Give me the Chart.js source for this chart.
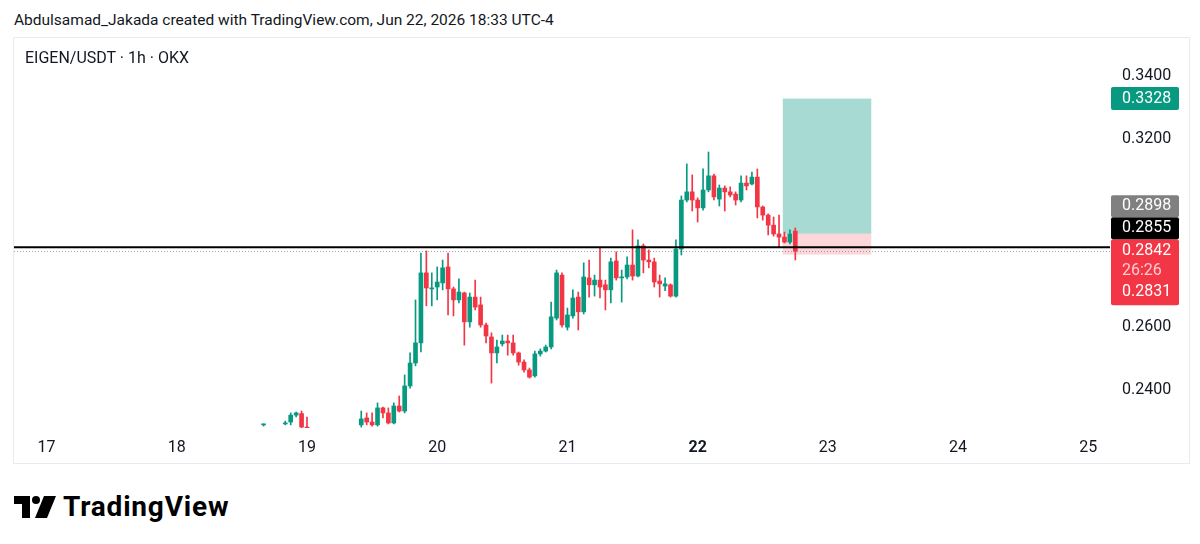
<!DOCTYPE html>
<html>
<head>
<meta charset="utf-8">
<script src="https://cdn.jsdelivr.net/npm/chart.js@4.4.1/dist/chart.umd.min.js"></script>
<style>
  html, body { margin: 0; padding: 0; background: #fff; }
  body { width: 1200px; height: 544px; position: relative; overflow: hidden;
         font-family: Roboto, "Noto Sans", sans-serif; color: #131722; }
  #credit { position: absolute; left: 14px; top: 11px; font-size: 15.5px; line-height: 18px; }
  #frame { position: absolute; left: 13px; top: 37px; width: 1175px; height: 425px; border: 1px solid #e9ebf0; }
  #wrap { position: absolute; left: 14px; top: 38px; }
  #title { position: absolute; left: 25px; top: 49px; font-size: 16px; line-height: 18px; z-index: 2; }
  #logo { position: absolute; left: 14px; top: 490px; display: flex; align-items: center; }
  #logo span { font-size: 28px; font-weight: 700; margin-left: 7px; letter-spacing: 0.8px; color: #000; }
</style>
</head>
<body>
<div id="credit">Abdulsamad_Jakada created with TradingView.com, Jun 22, 2026 18:33 UTC-4</div>
<div id="frame"></div>
<div id="wrap"><canvas id="grafico" width="1174" height="425"></canvas></div>
<div id="title">EIGEN/USDT · 1h · OKX</div>
<div id="logo">
  <svg width="42" height="22" viewBox="0 0 42 22">
    <path d="M0 0 H16 V22 H8 V8 H0 Z" fill="#000"/>
    <circle cx="22" cy="4" r="4" fill="#000"/>
    <path d="M30 0 H42 L33 22 H21 Z" fill="#000"/>
  </svg>
  <span>TradingView</span>
</div>

<script>
// hora 0 = 19 jun 00:00 (UTC-4); um candle por hora a partir de firstHour
const firstHour = -8;
const opens = [
  0.2289, null, null, null, 0.2292, 0.2298, 0.2320, 0.2325, 0.2282,
  null, null, null, null, null, null, null, null, null,
  0.2289, 0.2311, 0.2298, 0.2289, 0.2343, 0.2327, 0.2295, 0.2349, 0.2333, 0.2413,
  0.2486, 0.2550, 0.2773, 0.2722, 0.2728, 0.2741, 0.2792, 0.2722, 0.2687, 0.2709,
  0.2617, 0.2696, 0.2671, 0.2607, 0.2569, 0.2518, 0.2547, 0.2556, 0.2550, 0.2518,
  0.2489, 0.2464, 0.2445, 0.2515, 0.2524, 0.2537, 0.2629, 0.2766, 0.2600, 0.2636,
  0.2696, 0.2649, 0.2757, 0.2735, 0.2750, 0.2735, 0.2719, 0.2811, 0.2757, 0.2760,
  0.2798, 0.2763, 0.2859, 0.2814, 0.2808, 0.2747, 0.2731, 0.2735, 0.2699, 0.2849,
  0.3005, 0.3031, 0.3005, 0.2980, 0.3037, 0.3082, 0.3008, 0.3043, 0.3031, 0.3024,
  0.3005, 0.3059, 0.3056, 0.3078, 0.2983, 0.2957, 0.2925, 0.2897, 0.2887, 0.2871,
  0.2906
];
const highs = [
  0.2292, null, null, null, 0.2301, 0.2327, 0.2330, 0.2333, 0.2314,
  null, null, null, null, null, null, null, null, null,
  0.2333, 0.2327, 0.2327, 0.2359, 0.2346, 0.2343, 0.2359, 0.2381, 0.2448, 0.2518,
  0.2687, 0.2836, 0.2843, 0.2773, 0.2792, 0.2814, 0.2836, 0.2728, 0.2754, 0.2712,
  0.2709, 0.2750, 0.2696, 0.2613, 0.2582, 0.2559, 0.2575, 0.2575, 0.2575, 0.2521,
  0.2496, 0.2470, 0.2524, 0.2531, 0.2543, 0.2680, 0.2782, 0.2773, 0.2661, 0.2719,
  0.2712, 0.2805, 0.2814, 0.2766, 0.2852, 0.2750, 0.2820, 0.2840, 0.2782, 0.2824,
  0.2910, 0.2878, 0.2865, 0.2846, 0.2820, 0.2766, 0.2757, 0.2738, 0.2878, 0.3018,
  0.3120, 0.3085, 0.3012, 0.3104, 0.3158, 0.3088, 0.3053, 0.3050, 0.3047, 0.3031,
  0.3082, 0.3082, 0.3094, 0.3104, 0.2986, 0.2961, 0.2951, 0.2957, 0.2903, 0.2910,
  0.2916
];
const lows = [
  0.2285, null, null, null, 0.2289, 0.2289, 0.2314, 0.2273, 0.2225,
  null, null, null, null, null, null, null, null, null,
  0.2282, 0.2289, 0.2285, 0.2285, 0.2311, 0.2292, 0.2292, 0.2330, 0.2327, 0.2406,
  0.2477, 0.2521, 0.2668, 0.2668, 0.2687, 0.2719, 0.2639, 0.2636, 0.2677, 0.2543,
  0.2600, 0.2655, 0.2600, 0.2550, 0.2422, 0.2486, 0.2540, 0.2511, 0.2511, 0.2479,
  0.2457, 0.2438, 0.2441, 0.2508, 0.2521, 0.2531, 0.2623, 0.2600, 0.2591, 0.2629,
  0.2591, 0.2642, 0.2696, 0.2699, 0.2693, 0.2655, 0.2677, 0.2750, 0.2680, 0.2754,
  0.2750, 0.2760, 0.2773, 0.2789, 0.2728, 0.2696, 0.2716, 0.2696, 0.2696, 0.2830,
  0.2999, 0.2970, 0.2935, 0.2973, 0.3031, 0.3005, 0.2986, 0.2970, 0.3015, 0.2989,
  0.2999, 0.3037, 0.3053, 0.2948, 0.2941, 0.2894, 0.2890, 0.2855, 0.2868, 0.2865,
  0.2814
];
const closes = [
  0.2290, null, null, null, 0.2295, 0.2320, 0.2327, 0.2282, 0.2241,
  null, null, null, null, null, null, null, null, null,
  0.2308, 0.2298, 0.2289, 0.2343, 0.2327, 0.2295, 0.2349, 0.2333, 0.2413, 0.2486,
  0.2550, 0.2773, 0.2725, 0.2725, 0.2744, 0.2789, 0.2722, 0.2687, 0.2712, 0.2617,
  0.2696, 0.2664, 0.2607, 0.2572, 0.2518, 0.2537, 0.2556, 0.2550, 0.2518, 0.2489,
  0.2464, 0.2441, 0.2515, 0.2524, 0.2537, 0.2633, 0.2773, 0.2607, 0.2639, 0.2693,
  0.2649, 0.2760, 0.2735, 0.2750, 0.2728, 0.2719, 0.2808, 0.2757, 0.2760, 0.2798,
  0.2763, 0.2859, 0.2814, 0.2808, 0.2744, 0.2738, 0.2738, 0.2699, 0.2849, 0.3005,
  0.3031, 0.3005, 0.2980, 0.3037, 0.3082, 0.3015, 0.3043, 0.3031, 0.3021, 0.3005,
  0.3059, 0.3050, 0.3078, 0.2983, 0.2957, 0.2925, 0.2897, 0.2887, 0.2871, 0.2897,
  0.2842
];

// eixos (0.2800 e 0.3000 ficam escondidos atrás das etiquetas)
const dayTicks = [17, 18, 19, 20, 21, 22, 23, 24, 25];
const boldDay = 22;
const priceTicks = [0.24, 0.26, 0.32, 0.34];

// posição longa + linha horizontal
const posStart = 87.7, posEnd = 104;
const entryPrice = 0.2898, targetPrice = 0.3328, stopPrice = 0.2831;
const hLinePrice = 0.2855;
const lastPrice = 0.2842;
const countdown = '26:26';

const UP = '#089981';
const DOWN = '#f23645';

const bodyData = [], wickData = [], cores = [];
opens.forEach((o, i) => {
  if (o === null) return;
  const x = firstHour + i;
  bodyData.push({ x, y: [o, closes[i]] });
  wickData.push({ x, y: [lows[i], highs[i]] });
  cores.push(closes[i] >= o ? UP : DOWN);
});

function etiqueta(ctx, x, top, w, h, bg, linhas) {
  ctx.fillStyle = bg;
  ctx.beginPath();
  ctx.roundRect(x, top, w, h, 2);
  ctx.fill();
  linhas.forEach(l => {
    ctx.fillStyle = l.cor || '#fff';
    ctx.fillText(l.txt, x + 11, l.y);
  });
}

const overlay = {
  id: 'overlay',
  beforeDatasetsDraw(chart) {
    const { ctx, scales: { x, y }, chartArea: a } = chart;
    const x0 = x.getPixelForValue(posStart), x1 = x.getPixelForValue(posEnd);
    const yT = y.getPixelForValue(targetPrice), yE = y.getPixelForValue(entryPrice), yS = y.getPixelForValue(stopPrice);
    ctx.save();
    ctx.fillStyle = 'rgba(8,153,129,0.36)';
    ctx.fillRect(x0, yT, x1 - x0, yE - yT);
    ctx.fillStyle = 'rgba(242,54,69,0.2)';
    ctx.fillRect(x0, yE, x1 - x0, yS - yE);
    // linha do último preço (pontilhada)
    const yL = Math.round(y.getPixelForValue(lastPrice)) + 0.5;
    ctx.strokeStyle = 'rgba(140,140,150,0.8)';
    ctx.lineWidth = 1;
    ctx.setLineDash([1, 2]);
    ctx.beginPath();
    ctx.moveTo(a.left, yL);
    ctx.lineTo(a.right, yL);
    ctx.stroke();
    ctx.restore();
  },
  afterDatasetsDraw(chart) {
    const { ctx, scales: { y }, chartArea: a } = chart;
    const yH = y.getPixelForValue(hLinePrice);
    ctx.save();
    ctx.strokeStyle = '#000';
    ctx.lineWidth = 2;
    ctx.beginPath();
    ctx.moveTo(a.left, yH);
    ctx.lineTo(a.right, yH);
    ctx.stroke();
    ctx.restore();
  },
  afterDraw(chart) {
    const { ctx, scales: { y }, chartArea: a } = chart;
    const bx = a.right + 1, bw = 68, rh = 22;
    ctx.save();
    ctx.font = '16px Roboto';
    ctx.textBaseline = 'middle';
    ctx.textAlign = 'left';
    const yT = y.getPixelForValue(targetPrice);
    etiqueta(ctx, bx, yT - 11.5, bw, 23, UP, [{ txt: targetPrice.toFixed(4), y: yT }]);
    const yL = y.getPixelForValue(lastPrice);
    const redTop = yL - 12;
    etiqueta(ctx, bx, redTop, bw, rh * 3, DOWN, [
      { txt: lastPrice.toFixed(4), y: redTop + 12 },
      { txt: countdown, y: redTop + 32, cor: 'rgba(255,255,255,0.75)' },
      { txt: stopPrice.toFixed(4), y: redTop + 53 }
    ]);
    etiqueta(ctx, bx, redTop - rh, bw, rh, '#000', [{ txt: hLinePrice.toFixed(4), y: redTop - rh / 2 }]);
    etiqueta(ctx, bx, redTop - rh * 2, bw, rh, '#808080', [{ txt: entryPrice.toFixed(4), y: redTop - rh * 1.5 }]);
    ctx.restore();
  }
};

Chart.defaults.font.family = 'Roboto';
Chart.defaults.color = '#131722';

const ctx = document.getElementById('grafico').getContext('2d');
new Chart(ctx, {
  type: 'bar',
  data: {
    datasets: [
      {
        label: 'pavio',
        data: wickData,
        backgroundColor: cores,
        barThickness: 1,
        grouped: false,
        borderWidth: 0
      },
      {
        label: 'corpo',
        data: bodyData,
        backgroundColor: cores,
        barThickness: 4,
        minBarLength: 1,
        grouped: false,
        borderWidth: 0
      }
    ]
  },
  options: {
    responsive: false,
    animation: false,
    events: [],
    layout: { padding: 0 },
    plugins: { legend: { display: false }, tooltip: { enabled: false } },
    scales: {
      x: {
        type: 'linear',
        offset: false,
        min: -54,
        max: 148,
        grid: { display: false, drawTicks: false },
        border: { display: false },
        afterFit: s => { s.height = 35; s.paddingLeft = 0; s.paddingRight = 0; },
        afterBuildTicks: s => { s.ticks = dayTicks.map(d => ({ value: (d - 19) * 24 })); },
        ticks: {
          padding: 10,
          maxRotation: 0,
          autoSkip: false,
          callback: v => String(19 + v / 24),
          font: c => ({ family: 'Roboto', size: 16, weight: (c.tick && 19 + c.tick.value / 24 === boldDay) ? 'bold' : 'normal' })
        }
      },
      y: {
        position: 'right',
        min: 0.2279,
        max: 0.3521,
        beginAtZero: false,
        grid: { display: false, drawTicks: false },
        border: { display: false },
        afterFit: s => { s.width = 78; s.paddingTop = 0; s.paddingBottom = 0; },
        afterBuildTicks: s => { s.ticks = priceTicks.map(v => ({ value: v })); },
        ticks: {
          padding: 12,
          font: { size: 16 },
          callback: v => v.toFixed(4)
        }
      }
    }
  },
  plugins: [overlay]
});
</script>
</body>
</html>
